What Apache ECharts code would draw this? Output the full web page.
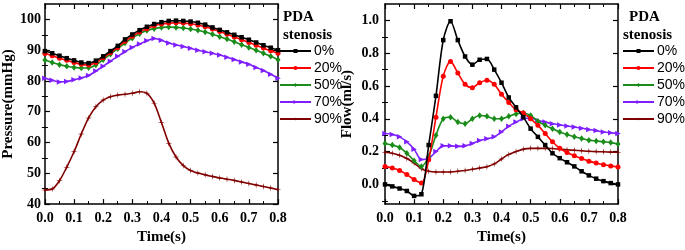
<!DOCTYPE html>
<html><head><meta charset="utf-8">
<script src="https://cdn.jsdelivr.net/npm/echarts@6/dist/echarts.min.js"></script>
<style>html,body{margin:0;padding:0;background:#fff}#c{width:685px;height:250px}</style>
</head><body><div id="c"></div>
<script>
// ---------- data ----------
const seriesNames = ['0%', '20%', '50%', '70%', '90%'];
const timeP = [0,0.025,0.05,0.075,0.1,0.125,0.15,0.175,0.2,0.225,0.25,0.275,0.3,0.325,0.35,0.375,0.4,0.425,0.45,0.475,0.5,0.525,0.55,0.575,0.6,0.625,0.65,0.675,0.7,0.725,0.75,0.775,0.8];
const timeF = [0,0.025,0.05,0.075,0.1,0.125,0.15,0.175,0.2,0.225,0.25,0.275,0.3,0.325,0.35,0.375,0.4,0.425,0.45,0.475,0.5,0.525,0.55,0.575,0.6,0.625,0.65,0.675,0.7,0.725,0.75,0.775,0.8];

const pressure0  = [89.7,89.0,88.2,87.4,86.7,86.0,85.8,86.6,88.0,89.7,91.4,93.5,95.1,96.5,97.6,98.5,99.1,99.5,99.6,99.5,99.3,98.9,98.3,97.4,96.6,95.8,95.0,94.2,93.4,92.5,91.6,90.8,90.0];
const pressure20 = [88.9,88.2,87.4,86.7,86.0,85.4,85.2,86.0,87.5,89.2,90.9,92.9,94.5,95.9,97.0,97.9,98.5,98.8,98.9,98.8,98.6,98.2,97.6,96.9,96.1,95.2,94.3,93.4,92.5,91.6,90.7,89.8,89.0];
const pressure50 = [86.8,86.0,85.3,84.8,84.4,84.2,84.3,85.2,86.9,88.7,90.5,92.3,93.9,95.3,96.4,97.0,97.4,97.5,97.4,97.2,96.9,96.5,95.9,95.2,94.4,93.6,92.7,91.8,90.9,90.0,89.0,88.0,86.9];
const pressure70 = [80.9,80.2,79.7,79.8,80.4,81.0,81.8,83.2,84.8,86.4,88.0,89.5,90.9,92.0,93.1,93.8,93.2,92.3,91.7,91.2,90.6,90.0,89.5,89.0,88.4,87.7,87.0,86.2,85.4,84.4,83.4,82.2,80.9];
const pressure90 = [44.6,44.9,47.6,52.0,57.0,62.8,68.0,71.6,73.8,74.9,75.4,75.7,76.0,76.5,76.0,72.8,66.5,59.8,55.3,52.5,50.9,50.1,49.5,49.0,48.5,48.1,47.7,47.2,46.7,46.2,45.7,45.2,44.7];

const flow0  = [0.0,-0.012,-0.025,-0.04,-0.07,-0.06,0.24,0.54,0.88,0.995,0.88,0.78,0.73,0.76,0.765,0.70,0.62,0.53,0.47,0.41,0.34,0.29,0.24,0.19,0.16,0.135,0.11,0.08,0.055,0.035,0.02,0.008,0.0];
const flow20 = [0.11,0.10,0.085,0.06,0.03,0.008,0.15,0.41,0.66,0.75,0.68,0.61,0.59,0.62,0.635,0.61,0.55,0.50,0.455,0.435,0.40,0.36,0.31,0.26,0.22,0.195,0.175,0.158,0.142,0.13,0.12,0.113,0.106];
const flow50 = [0.25,0.24,0.225,0.19,0.145,0.11,0.17,0.30,0.40,0.41,0.38,0.37,0.40,0.42,0.415,0.40,0.40,0.415,0.43,0.435,0.42,0.385,0.36,0.34,0.32,0.305,0.29,0.28,0.27,0.265,0.26,0.255,0.246];
const flow70 = [0.31,0.305,0.29,0.26,0.215,0.152,0.158,0.20,0.235,0.235,0.232,0.235,0.25,0.268,0.278,0.29,0.32,0.355,0.38,0.40,0.405,0.39,0.38,0.37,0.363,0.356,0.35,0.342,0.335,0.328,0.32,0.315,0.31];
const flow90 = [0.196,0.19,0.178,0.158,0.13,0.095,0.08,0.076,0.076,0.076,0.08,0.085,0.092,0.10,0.108,0.125,0.155,0.183,0.20,0.215,0.22,0.22,0.22,0.219,0.215,0.211,0.208,0.205,0.202,0.20,0.199,0.197,0.196];

const pressureLabels = [40,50,60,70,80,90,100];
const pressureMinor  = [45,55,65,75,85,95];
const flowLabels = [0,0.2,0.4,0.6,0.8,1.0];
const flowMinor  = [-0.1,0.1,0.3,0.5,0.7,0.9];

// ---------- styles ----------
const colors  = ['#000000', '#ff0000', '#1a8c1a', '#7f1fff', '#800000'];
const symbols = ['rect', 'circle', 'diamond', 'path://M0,0L10,5L0,10Z',
  'path://M5,0L5.7,4.3L10,5L5.7,5.7L5,10L4.3,5.7L0,5L4.3,4.3Z'];
const symSizes = [4.5, 5, [5,6.5], [5.5,5.5], [7,7]];
const serifBold = {fontFamily:'"Liberation Serif","Times New Roman",serif', fontWeight:'bold', color:'#000'};
const axLine = {show:true, onZero:false, lineStyle:{color:'#000', width:1.5}};

function xAxesFor(gi) {
  const base = {gridIndex:gi, type:'value', min:0, max:0.8, interval:0.1, axisLine:axLine,
    axisTick:{inside:true, length:5, lineStyle:{color:'#000', width:1.2}},
    minorTick:{show:true, splitNumber:2, length:3, lineStyle:{color:'#000', width:1}},
    splitLine:{show:false}, minorSplitLine:{show:false}};
  return [
    Object.assign({}, base, {position:'bottom',
      axisLabel:Object.assign({fontSize:14, margin:7, formatter:v=>v.toFixed(1)}, serifBold),
      name:'Time(s)', nameLocation:'middle', nameGap:23,
      nameTextStyle:Object.assign({fontSize:15}, serifBold)}),
    Object.assign({}, base, {position:'top', axisLabel:{show:false}})
  ];
}
function yAxesFor(gi, min, max, labels, minor, name, fmt, margin, nameGap) {
  const base = {gridIndex:gi, type:'value', min:min, max:max, splitLine:{show:false}};
  const major = {show:true, inside:true, length:5, customValues:labels, lineStyle:{color:'#000', width:1.2}};
  const minr  = {show:true, inside:true, length:3, customValues:minor, lineStyle:{color:'#000', width:1}};
  return [
    Object.assign({}, base, {position:'left', axisLine:axLine, axisTick:major,
      axisLabel:Object.assign({fontSize:14, margin:margin, customValues:labels, formatter:fmt}, serifBold),
      name:name, nameLocation:'middle', nameGap:nameGap,
      nameTextStyle:Object.assign({fontSize:15}, serifBold)}),
    Object.assign({}, base, {position:'left', axisLine:{show:false}, axisTick:minr, axisLabel:{show:false}}),
    Object.assign({}, base, {position:'right', axisLine:axLine, axisTick:major, axisLabel:{show:false}}),
    Object.assign({}, base, {position:'right', axisLine:{show:false}, axisTick:minr, axisLabel:{show:false}})
  ];
}
function mkSeries(time, values, idx, xi, yi) {
  return {type:'line', name:seriesNames[idx], xAxisIndex:xi, yAxisIndex:yi,
    data: time.map((t,i)=>[t, values[i]]), smooth:0.3,
    symbol:symbols[idx], symbolSize:symSizes[idx], showSymbol:true,
    itemStyle:{color:colors[idx]}, lineStyle:{color:colors[idx], width:1.6}, z:10-idx};
}
const pressureSets = [pressure0, pressure20, pressure50, pressure70, pressure90];
const flowSets = [flow0, flow20, flow50, flow70, flow90];

const legendBase = {orient:'vertical', top:44, itemWidth:31, itemHeight:5, itemGap:3, padding:0,
  selectedMode:false, data:seriesNames,
  textStyle:{fontFamily:'"Liberation Sans",Arial,sans-serif', fontSize:14, color:'#000', lineHeight:13, padding:[0,0,0,-2]}};
const titleStyle = Object.assign({fontSize:15}, serifBold);

const option = {
  animation:false,
  backgroundColor:'#fff',
  title:[
    {text:'PDA', left:283, top:10, padding:0, textStyle:titleStyle},
    {text:'stenosis', left:283, top:28, padding:0, textStyle:titleStyle},
    {text:'PDA', left:629, top:10, padding:0, textStyle:titleStyle},
    {text:'stenosis', left:623, top:28, padding:0, textStyle:titleStyle}
  ],
  legend:[
    Object.assign({left:279}, legendBase),
    Object.assign({left:622}, legendBase)
  ],
  grid:[
    {left:43, top:4, width:235, height:203},
    {left:385, top:4, width:233, height:203}
  ],
  xAxis: xAxesFor(0).concat(xAxesFor(1)),
  yAxis: yAxesFor(0, 40, 105, pressureLabels, pressureMinor, 'Pressure(mmHg)', v=>String(v), 4, 26)
    .concat(yAxesFor(1, -0.12, 1.1, flowLabels, flowMinor, 'Flow(ml/s)', v=>v.toFixed(1), 6, 30)),
  series: pressureSets.map((s,i)=>mkSeries(timeP, s, i, 0, 0))
    .concat(flowSets.map((s,i)=>mkSeries(timeF, s, i, 2, 4)))
};
const chart = echarts.init(document.getElementById('c'), null, {renderer:'canvas'});
chart.setOption(option);
</script>
</body></html>
